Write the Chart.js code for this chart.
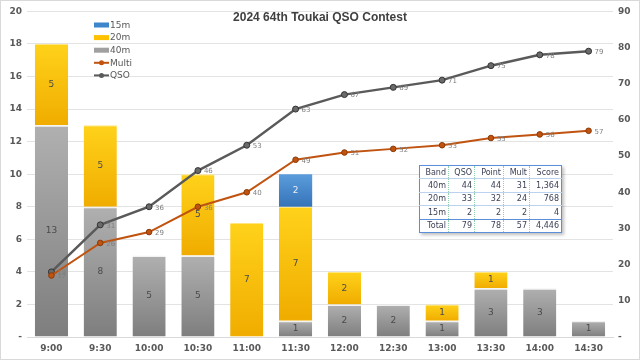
<!DOCTYPE html>
<html>
<head>
<meta charset="utf-8">
<script src="https://cdn.jsdelivr.net/npm/chart.js@4.4.1/dist/chart.umd.min.js"></script>
<style>
  html, body { margin: 0; padding: 0; background: #fff; }
  #wrap { position: relative; width: 640px; height: 360px; box-sizing: border-box; border: 1px solid #d9d9d9; }
  canvas { display: block; }
  #score {
    position: absolute; left: 418px; top: 164px;
    border-collapse: collapse; background: #fff;
    font: 8px "DejaVu Sans", Verdana, sans-serif; color: #3a3f55;
    border: 1px solid #5b8fd9; box-shadow: 2px 2px 3px rgba(0,0,0,0.25);
  }
  #score td { height: 12.4px; padding: 0 2px; text-align: right; border-left: 1px dotted #8fd4a8; border-top: 1px solid #bcd3f0; }
  #score td:first-child { border-left: none; }
  #score tr:last-child td { border-top: 1px solid #5b8fd9; }
</style>
</head>
<body>
<div id="wrap">
  <canvas id="c" width="638" height="358"></canvas>
  <table id="score"></table>
</div>
<script>
// ── Data ──────────────────────────────────────────────────────────────────────
const times   = ["9:00","9:30","10:00","10:30","11:00","11:30","12:00","12:30","13:00","13:30","14:00","14:30"];
const band40  = [13, 8, 5, 5, 0, 1, 2, 2, 1, 3, 3, 1];
const band20  = [5, 5, 0, 5, 7, 7, 2, 0, 1, 1, 0, 0];
const band15  = [0, 0, 0, 0, 0, 2, 0, 0, 0, 0, 0, 0];
const qso     = [18, 31, 36, 46, 53, 63, 67, 69, 71, 75, 78, 79];
const multi   = [17, 26, 29, 36, 40, 49, 51, 52, 53, 55, 56, 57];
const leftTicks  = [0, 2, 4, 6, 8, 10, 12, 14, 16, 18, 20];
const rightTicks = [0, 10, 20, 30, 40, 50, 60, 70, 80, 90];

const tableHead = ["Band", "QSO", "Point", "Mult", "Score"];
const tableRows = [
  ["40m", "44", "44", "31", "1,364"],
  ["20m", "33", "32", "24", "768"],
  ["15m", "2", "2", "2", "4"],
  ["Total", "79", "78", "57", "4,446"],
];

// ── Score table ───────────────────────────────────────────────────────────────
document.getElementById("score").innerHTML = [tableHead, ...tableRows].map((r, i) =>
  `<tr>${r.map((c, j) => `<td style="width:${[24, 21, 24, 21, 27][j]}px;${i === 0 ? "border-top:none" : ""}">${c}</td>`).join("")}</tr>`
).join("");

// ── Bar fills (vertical shade per segment) ───────────────────────────────────
const stacks = [band40, band20, band15];

function barFill(top, bottom) {
  return ctx => {
    const y = ctx.chart.scales.y;
    if (!y || ctx.dataIndex == null) return top;
    let base = 0;
    for (let d = 0; d < ctx.datasetIndex; d++) base += stacks[d][ctx.dataIndex];
    const val = stacks[ctx.datasetIndex][ctx.dataIndex];
    const y0 = y.getPixelForValue(base + val), y1 = y.getPixelForValue(base);
    if (!isFinite(y0) || !isFinite(y1) || y0 === y1) return top;
    const g = ctx.chart.ctx.createLinearGradient(0, y0, 0, y1);
    g.addColorStop(0, top);
    g.addColorStop(1, bottom);
    return g;
  };
}

// ── Plugins: title, legend, value labels ─────────────────────────────────────
const overlay = {
  id: "overlay",
  afterDatasetsDraw(chart) {
    const ctx = chart.ctx;
    ctx.save();
    // bar segment labels
    ctx.textAlign = "center";
    ctx.textBaseline = "middle";
    ctx.font = "9px 'DejaVu Sans', sans-serif";
    [0, 1, 2].forEach(di => {
      const meta = chart.getDatasetMeta(di);
      const ds = chart.data.datasets[di];
      meta.data.forEach((bar, i) => {
        if (!ds.data[i]) return;
        ctx.fillStyle = di === 2 ? "#e8eef8" : "#4a4a4a";
        ctx.fillText(ds.data[i], bar.x, (bar.y + bar.base) / 2);
      });
    });
    // line point labels
    ctx.textAlign = "left";
    ctx.font = "7px 'DejaVu Sans', sans-serif";
    ctx.fillStyle = "#7f7f7f";
    [3, 4].forEach(di => {
      const meta = chart.getDatasetMeta(di);
      const ds = chart.data.datasets[di];
      meta.data.forEach((pt, i) => ctx.fillText(ds.data[i], pt.x + 6, pt.y + 1));
    });
    ctx.restore();
  },
  afterDraw(chart) {
    const ctx = chart.ctx;
    ctx.save();
    ctx.font = "bold 12px 'Liberation Sans', Arial, sans-serif";
    ctx.fillStyle = "#404040";
    ctx.textAlign = "center";
    ctx.textBaseline = "middle";
    ctx.fillText("2024 64th Toukai QSO Contest", 319, 17);

    // legend
    const order = [2, 1, 0, 3, 4];
    ctx.font = "9px 'DejaVu Sans', sans-serif";
    ctx.textAlign = "left";
    order.forEach((di, k) => {
      const ds = chart.data.datasets[di];
      const y = 24 + k * 12.6;
      if (ds.type === "line") {
        ctx.strokeStyle = ds.borderColor; ctx.lineWidth = 2;
        ctx.beginPath(); ctx.moveTo(93, y); ctx.lineTo(108, y); ctx.stroke();
        ctx.fillStyle = ds.borderColor;
        ctx.beginPath(); ctx.arc(100.5, y, 2.5, 0, Math.PI * 2); ctx.fill();
      } else {
        ctx.fillStyle = ds.legendColor;
        ctx.fillRect(93, y - 2.5, 15, 5);
      }
      ctx.fillStyle = "#595959";
      ctx.fillText(ds.label, 109, y + 0.5);
    });
    ctx.restore();
  },
};

// ── Chart ─────────────────────────────────────────────────────────────────────
const tickFont = { family: "'DejaVu Sans', sans-serif", size: 9, weight: "bold" };

new Chart(document.getElementById("c"), {
  data: {
    labels: times,
    datasets: [
      { type: "bar", label: "40m", data: band40, yAxisID: "y", stack: "s", order: 2,
        backgroundColor: barFill("#b0b0b0", "#7e7e7e"), legendColor: "#a0a0a0",
        borderColor: "#f2f2f2", borderWidth: { top: 1.5, left: 0, right: 0, bottom: 0 }, borderSkipped: false },
      { type: "bar", label: "20m", data: band20, yAxisID: "y", stack: "s", order: 2,
        backgroundColor: barFill("#ffd21a", "#f0ac00"), legendColor: "#ffc000",
        borderColor: "#ffe680", borderWidth: { top: 1, left: 0, right: 0, bottom: 0 }, borderSkipped: false },
      { type: "bar", label: "15m", data: band15, yAxisID: "y", stack: "s", order: 2,
        backgroundColor: barFill("#5b9ddc", "#3573b8"), legendColor: "#3d86cc",
        borderWidth: 0 },
      { type: "line", label: "Multi", data: multi, yAxisID: "y1", order: 0,
        borderColor: "#c0530f", backgroundColor: "#c0530f", borderWidth: 2,
        pointRadius: 2.8, pointBorderWidth: 1, pointBorderColor: "#8a3a08", tension: 0 },
      { type: "line", label: "QSO", data: qso, yAxisID: "y1", order: 0,
        borderColor: "#5a5a5a", backgroundColor: "#6a6a6a", borderWidth: 2.5,
        pointRadius: 3, pointBorderWidth: 1, pointBorderColor: "#333", tension: 0 },
    ],
  },
  options: {
    responsive: false,
    animation: false,
    layout: { padding: { left: 1, right: 0, top: 7, bottom: 0 } },
    plugins: { legend: { display: false }, tooltip: { enabled: false } },
    datasets: { bar: { barPercentage: 0.68, categoryPercentage: 1 } },
    scales: {
      x: {
        stacked: true,
        grid: { display: false, drawTicks: false },
        border: { color: "#d9d9d9" },
        ticks: { color: "#595959", font: tickFont, padding: 6 },
        afterFit: s => { s.height = 22; },
      },
      y: {
        stacked: true, position: "left", min: 0, max: 20,
        afterBuildTicks: s => { s.ticks = leftTicks.map(v => ({ value: v })); },
        grid: { color: "#e3e3e3", drawTicks: false },
        border: { display: false },
        ticks: { color: "#595959", font: tickFont, padding: 5, callback: v => v === 0 ? "-" : v },
        afterFit: s => { s.width = 25; },
      },
      y1: {
        position: "right", min: 0, max: 90,
        afterBuildTicks: s => { s.ticks = rightTicks.map(v => ({ value: v })); },
        grid: { display: false, drawTicks: false },
        border: { display: false },
        ticks: { color: "#595959", font: tickFont, padding: 5, callback: v => v === 0 ? "-" : v },
        afterFit: s => { s.width = 26; },
      },
    },
  },
  plugins: [overlay],
});
</script>
</body>
</html>
